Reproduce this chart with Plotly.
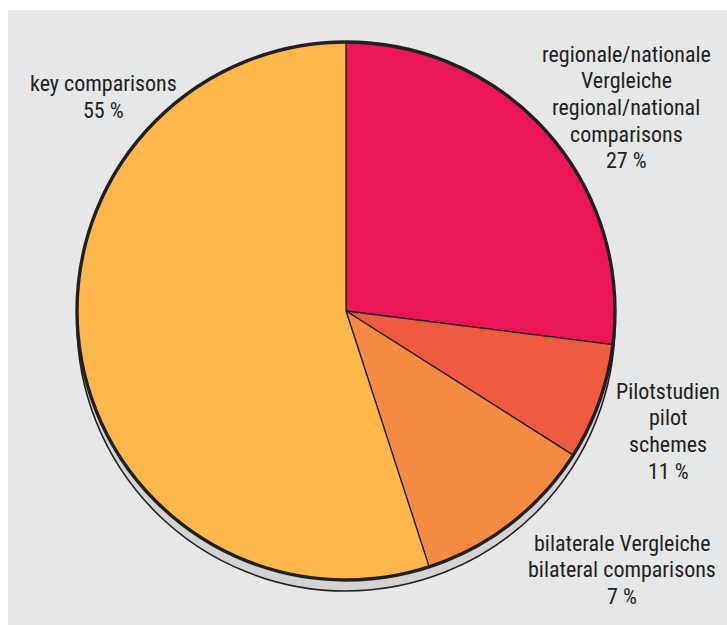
import plotly.graph_objects as go

# Share of comparisons by type (percent), clockwise from 12 o'clock
categories = [
    "regionale/nationale Vergleiche",
    "bilaterale Vergleiche",
    "Pilotstudien",
    "key comparisons",
]
shares = [27, 7, 11, 55]
slice_colors = ["#ED1559", "#F05A3E", "#F68C44", "#FDB74B"]

# Text blocks placed around the pie: lines of text, centre x and first-line y (pixels)
label_lines = [
    ["regionale/nationale", "Vergleiche", "regional/national", "comparisons", "27 %"],
    ["bilaterale Vergleiche", "bilateral comparisons", "7 %"],
    ["Pilotstudien", "pilot", "schemes", "11 %"],
    ["key comparisons", "55 %"],
]
label_pos = [(626, 54), (622, 543), (668, 391), (103, 84)]

W, H = 727, 625
INK = "#231F20"
BG = "#E6E7E8"
FONT = "Liberation Sans Narrow, Arial Narrow, Roboto Condensed, Liberation Sans, Arial"
FONT_SIZE = 22
LINE_H = 26.7


def fx(px):
    return px / W


def fy(py):
    return 1 - py / H


# pie placement in pixels: centre and radius
cx, cy, r = 346, 311, 269
shadow_dy = 11

pie_domain = dict(x=[fx(cx - r), fx(cx + r)], y=[fy(cy + r), fy(cy - r)])
shadow_domain = dict(x=[fx(cx - r), fx(cx + r)],
                     y=[fy(cy + r + shadow_dy), fy(cy - r + shadow_dy)])

fig = go.Figure()

# drop shadow disc underneath
fig.add_trace(go.Pie(
    values=[1], labels=["shadow"], domain=shadow_domain,
    marker=dict(colors=["#D1D3D4"], line=dict(color=INK, width=1.6)),
    textinfo="none", hoverinfo="skip", showlegend=False, sort=False,
))

# the slices
fig.add_trace(go.Pie(
    values=shares, labels=categories, domain=pie_domain,
    direction="clockwise", rotation=0, sort=False,
    marker=dict(colors=slice_colors, line=dict(color=INK, width=1.3)),
    textinfo="none", showlegend=False,
))

# heavy outer rim
fig.add_trace(go.Pie(
    values=[1], labels=["rim"], domain=pie_domain,
    marker=dict(colors=["rgba(0,0,0,0)"], line=dict(color=INK, width=3.4)),
    textinfo="none", hoverinfo="skip", showlegend=False, sort=False,
))

annotations = []
for lines, (lx, ly) in zip(label_lines, label_pos):
    for i, line in enumerate(lines):
        annotations.append(dict(
            x=fx(lx), y=fy(ly + i * LINE_H), xref="paper", yref="paper",
            text=line, showarrow=False, xanchor="center", yanchor="middle",
            font=dict(family=FONT, size=FONT_SIZE, color=INK),
        ))

fig.update_layout(
    width=W, height=H,
    margin=dict(l=0, r=0, t=0, b=0),
    paper_bgcolor=BG,
    annotations=annotations,
    shapes=[
        dict(type="rect", xref="paper", yref="paper", x0=0, x1=fx(8), y0=0, y1=1,
             fillcolor="white", line=dict(width=0), layer="below"),
        dict(type="rect", xref="paper", yref="paper", x0=0, x1=1, y0=fy(10), y1=1,
             fillcolor="white", line=dict(width=0), layer="below"),
    ],
)

fig.write_html("out.html")
